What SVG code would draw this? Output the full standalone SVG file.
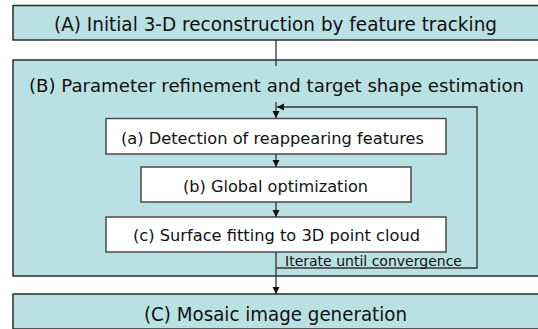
<svg xmlns="http://www.w3.org/2000/svg" width="538" height="329" viewBox="0 0 538 329">
<defs>
<style>
.outer{fill:#b9e0e3;stroke:#2b2b2b;stroke-width:1.5}
.inner{fill:#ffffff;stroke:#4a4a4a;stroke-width:1.5}
.t{font-family:"DejaVu Sans",Verdana,sans-serif;fill:#111;text-anchor:start}
.big{font-size:19px}
.bigb{font-size:18.3px}
.mid{font-size:16.5px}
.sm{font-size:14.5px}
.conn{fill:none;stroke:#333;stroke-width:1.3}
</style>
<marker id="ah" markerUnits="userSpaceOnUse" markerWidth="8" markerHeight="8" refX="7" refY="4" orient="auto">
<path d="M0,0.5 L7,4 L0,7.5 z" fill="#111"/>
</marker>
</defs>
<rect width="538" height="329" fill="#ffffff"/>
<g id="nodeA">
<path class="outer" d="M538,5.5 H13 V40 H538"/>
<text class="t big" x="54" y="31" textLength="443" lengthAdjust="spacingAndGlyphs">(A) Initial 3-D reconstruction by feature tracking</text>
</g>
<g id="nodeB">
<path class="outer" d="M538,60 H13 V276 H538"/>
<text class="t bigb" x="29" y="92" textLength="495" lengthAdjust="spacingAndGlyphs">(B) Parameter refinement and target shape estimation</text>
</g>
<g id="nodeC">
<path class="outer" d="M538,294 H13 V329 H538"/>
<text class="t big" x="144" y="321" textLength="263" lengthAdjust="spacingAndGlyphs">(C) Mosaic image generation</text>
</g>
<g id="nodeBa">
<rect class="inner" x="106" y="118.5" width="340" height="35.5"/>
<text class="t mid" x="121" y="144" textLength="303" lengthAdjust="spacingAndGlyphs">(a) Detection of reappearing features</text>
</g>
<g id="nodeBb">
<rect class="inner" x="141" y="167" width="270" height="35"/>
<text class="t mid" x="183" y="192" textLength="185" lengthAdjust="spacingAndGlyphs">(b) Global optimization</text>
</g>
<g id="nodeBc">
<rect class="inner" x="106" y="217" width="340" height="35"/>
<text class="t mid" x="133" y="241" textLength="287" lengthAdjust="spacingAndGlyphs">(c) Surface fitting to 3D point cloud</text>
</g>
<g id="connectors">
<line class="conn" x1="276" y1="40" x2="276" y2="66"/>
<line class="conn" x1="276" y1="102" x2="276" y2="118" marker-end="url(#ah)"/>
<line class="conn" x1="276" y1="154" x2="276" y2="167" marker-end="url(#ah)"/>
<line class="conn" x1="276" y1="202" x2="276" y2="217" marker-end="url(#ah)"/>
<line class="conn" x1="276" y1="252" x2="276" y2="294" marker-end="url(#ah)"/>
<path class="conn" d="M276,268 H477 V107 H277" marker-end="url(#ah)"/>
<text class="t sm" x="285" y="266" textLength="177" lengthAdjust="spacingAndGlyphs">Iterate until convergence</text>
</g>
</svg>
